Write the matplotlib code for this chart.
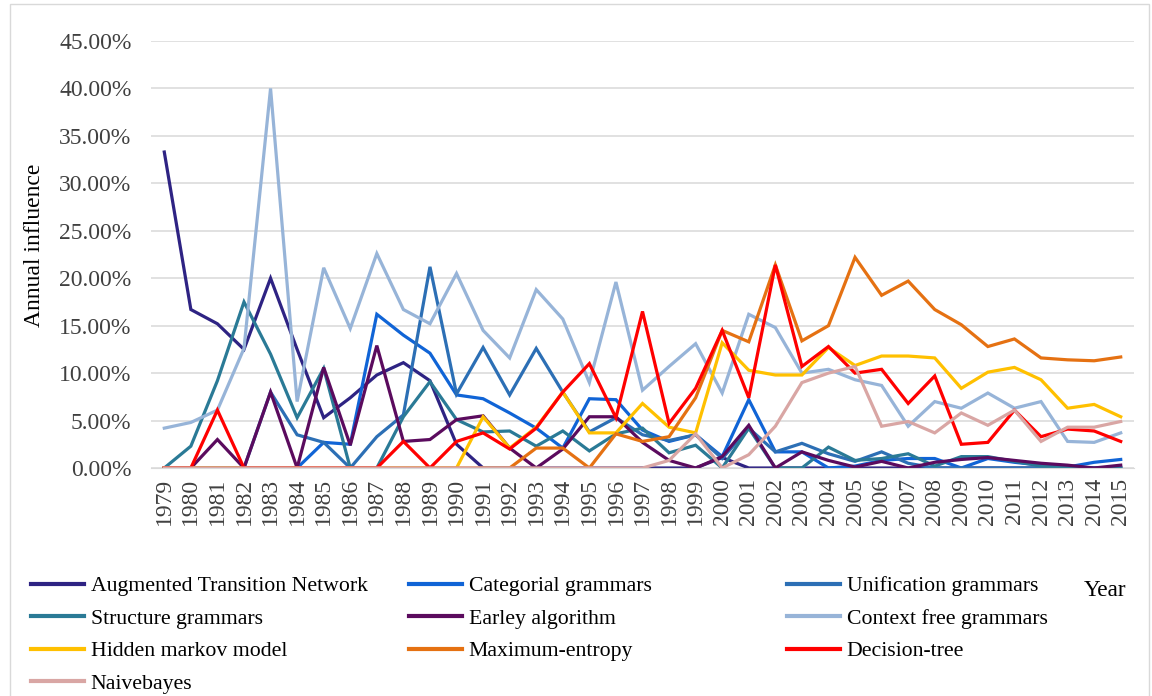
import matplotlib
matplotlib.use('Agg')
import matplotlib.pyplot as plt
from matplotlib.patches import Rectangle

# Times-like serif font
plt.rcParams['font.family'] = ['Liberation Serif', 'DejaVu Serif']

# years 1979 - 2015
years = [str(y) for y in range(1979, 2016)]

# annual influence (%)
atn = [33.3, 16.7, 15.2, 12.5, 20.0, 12.5, 5.3, 7.4, 9.8, 11.1, 9.2, 2.5, 0, 0, 0, 0, 0, 0, 0,
       0, 0, 1.1, 0, 0, 0, 0, 0, 0, 0, 0, 0, 0, 0, 0, 0, 0, 0]
categorial = [0, 0, 0, 0, 0, 0, 2.7, 2.5, 16.2, 14.0, 12.1, 7.7, 7.3, 5.8, 4.2, 2.1, 7.3, 7.2, 4.0,
              2.8, 3.5, 1.2, 7.2, 1.7, 1.7, 0, 0.2, 0.8, 1.0, 1.0, 0, 1.0, 0.6, 0.3, 0.1, 0.6, 0.9]
unification = [0, 0, 0, 0, 8.0, 3.5, 2.7, 0, 3.3, 5.6, 21.2, 7.8, 12.7, 7.7, 12.6, 8.0, 3.8, 5.3, 3.5,
               2.9, 3.5, 1.0, 4.2, 1.7, 2.6, 1.5, 0.7, 1.7, 0.5, 0, 0, 0, 0, 0, 0, 0, 0]
structure = [0, 2.3, 9.2, 17.5, 12.0, 5.3, 10.5, 0, 0, 5.4, 9.1, 5.1, 3.8, 3.9, 2.3, 3.9, 1.8, 3.6, 4.2,
             1.6, 2.4, 0, 4.2, 0, 0, 2.2, 0.8, 1.0, 1.5, 0.2, 1.2, 1.2, 0.7, 0.2, 0, 0, 0]
earley = [0, 0, 3.0, 0, 8.0, 0, 10.6, 2.4, 12.9, 2.8, 3.0, 5.1, 5.5, 2.1, 0, 2.0, 5.4, 5.4, 2.7,
          0.8, 0, 1.2, 4.5, 0, 1.7, 0.8, 0.1, 0.7, 0, 0.6, 0.9, 1.1, 0.8, 0.5, 0.3, 0, 0.3]
context_free = [4.2, 4.8, 6.1, 12.6, 40.0, 7.0, 21.1, 14.7, 22.6, 16.7, 15.2, 20.5, 14.5, 11.6, 18.8, 15.7, 9.0, 19.6, 8.2,
                10.7, 13.1, 7.9, 16.2, 14.8, 10.0, 10.4, 9.3, 8.7, 4.4, 7.0, 6.3, 7.9, 6.3, 7.0, 2.8, 2.7, 3.7]
hmm = [0, 0, 0, 0, 0, 0, 0, 0, 0, 0, 0, 0, 5.4, 2.1, 4.3, 8.0, 3.7, 3.7, 6.8,
       4.3, 3.7, 13.2, 10.3, 9.8, 9.8, 12.7, 10.8, 11.8, 11.8, 11.6, 8.4, 10.1, 10.6, 9.3, 6.3, 6.7, 5.4]
max_entropy = [0, 0, 0, 0, 0, 0, 0, 0, 0, 0, 0, 0, 0, 0, 2.1, 2.1, 0, 3.6, 2.8,
               3.3, 7.4, 14.5, 13.3, 21.4, 13.4, 15.0, 22.2, 18.2, 19.7, 16.7, 15.1, 12.8, 13.6, 11.6, 11.4, 11.3, 11.7]
decision_tree = [0, 0, 6.1, 0, 0, 0, 0, 0, 0, 2.8, 0, 2.8, 3.7, 2.0, 4.2, 8.0, 11.0, 5.3, 16.5,
                 4.7, 8.4, 14.5, 7.4, 21.4, 10.7, 12.8, 10.0, 10.4, 6.8, 9.7, 2.5, 2.7, 6.1, 3.3, 4.1, 3.9, 2.8]
naivebayes = [0, 0, 0, 0, 0, 0, 0, 0, 0, 0, 0, 0, 0, 0, 0, 0, 0, 0, 0,
              0.8, 3.6, 0, 1.4, 4.4, 9.0, 10.0, 10.7, 4.4, 4.9, 3.7, 5.8, 4.5, 6.1, 2.8, 4.3, 4.3, 4.9]

names = ['Augmented Transition Network', 'Categorial grammars', 'Unification grammars',
         'Structure grammars', 'Earley algorithm', 'Context free grammars',
         'Hidden markov model', 'Maximum-entropy', 'Decision-tree', 'Naivebayes']
series = [atn, categorial, unification, structure, earley, context_free,
          hmm, max_entropy, decision_tree, naivebayes]
colors = ['#2E2383', '#1064D6', '#2C6FB5', '#2A7A96', '#5B0B5E', '#97B4D8',
          '#FFC000', '#E57112', '#FF0000', '#D9A6A4']

W, H = 1152, 696
fig = plt.figure(figsize=(W / 100, H / 100), dpi=100)
ax = fig.add_axes([151 / W, 1 - 468 / H, (1134 - 151) / W, (468 - 41) / H])

lines = {}
for name, vals, c in zip(names, series, colors):
    ln, = ax.plot(range(len(years)), [v / 100 for v in vals], color=c, lw=2.3,
                  solid_joinstyle='miter', label=name)
    lines[name] = ln

ax.set_xlim(-0.5, len(years) - 0.5)
ax.set_ylim(0, 0.45)
ax.set_yticks([i * 0.05 for i in range(10)])
ax.set_yticklabels([f'{i * 5:.2f}%' for i in range(10)])
ax.set_xticks(range(len(years)))
ax.set_xticklabels(years, rotation=90)
ax.tick_params(axis='y', length=0, pad=14, labelsize=17, labelcolor='#404040')
ax.tick_params(axis='x', length=0, pad=7, labelsize=17, labelcolor='#404040')
ax.grid(axis='y', color='#D9D9D9', lw=1.1)
ax.set_axisbelow(True)
for s in ['top', 'right', 'left']:
    ax.spines[s].set_visible(False)
ax.spines['bottom'].set_color('#D9D9D9')

fig.text(35 / W, 1 - 245 / H, 'Annual influence', rotation=90, fontsize=17,
         ha='center', va='center')

# legend in three columns, like the original layout
cols = [names[0::3], names[1::3], names[2::3]]
col_x = [31, 409, 787]
for xs, col in zip(col_x, cols):
    leg = fig.legend([lines[n] for n in col], col, loc='upper left',
                     bbox_to_anchor=(xs / W, 1 - 576 / H), frameon=False, fontsize=15.7,
                     handlelength=2.45, handletextpad=0.28, labelspacing=0.56,
                     borderpad=0, borderaxespad=0)
    for h in leg.legend_handles:
        h.set_linewidth(3)

fig.text(1105 / W, 1 - 590 / H, 'Year', fontsize=16.7, ha='center', va='center')

# outer chart border
fig.patches.append(Rectangle((10 / W, -0.05), (1149 - 10) / W, 1.05 - 4 / H, fill=False,
                             edgecolor='#D9D9D9', lw=1, transform=fig.transFigure))

fig.savefig('out.png', dpi=100)
